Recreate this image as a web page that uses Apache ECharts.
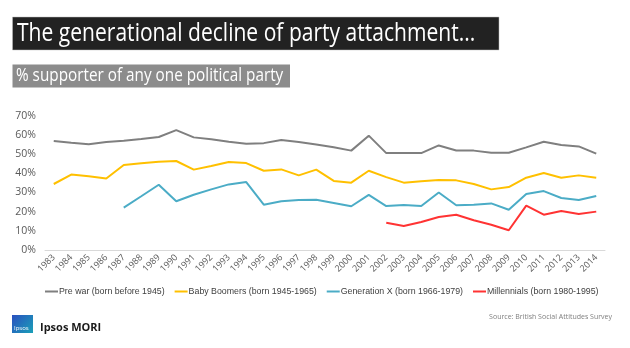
<!DOCTYPE html>
<html><head><meta charset="utf-8">
<script src="https://cdn.jsdelivr.net/npm/echarts@6/dist/echarts.min.js"></script>
<style>html,body{margin:0;padding:0;background:#fff}#c{width:630px;height:348px}</style>
</head><body><div id="c"></div>
<script>
const years = ['1983','1984','1985','1986','1987','1988','1989','1990','1991','1992','1993','1994','1995','1996','1997','1998','1999','2000','2001','2002','2003','2004','2005','2006','2007','2008','2009','2010','2011','2012','2013','2014'];
const preWar = [56.8,55.9,55.1,56.3,57.0,57.8,58.9,62.5,58.7,57.7,56.4,55.4,55.7,57.3,56.3,55.0,53.5,51.8,59.6,50.5,50.5,50.5,54.5,51.9,51.8,50.7,50.7,53.5,56.4,54.7,54.0,50.2];
const boomers = [34.4,39.3,38.4,37.3,44.3,45.2,46.0,46.4,41.9,43.8,45.9,45.3,41.3,42.0,38.9,41.9,36.0,35.1,41.3,38.0,35.1,35.8,36.5,36.3,34.4,31.6,32.8,37.7,40.1,37.7,38.9,37.7];
const genX = [null,null,null,null,22.1,28.0,34.0,25.4,28.8,31.6,34.2,35.4,23.6,25.4,26.1,26.2,24.5,22.8,28.7,22.9,23.4,22.9,30.0,23.3,23.6,24.3,21.0,29.2,30.7,27.1,26.1,28.1];
const millennials = [null,null,null,null,null,null,null,null,null,null,null,null,null,null,null,null,null,null,null,14.2,12.5,14.6,17.2,18.4,15.5,13.2,10.3,23.1,18.4,20.3,18.8,20.0];
const seriesNames = ['Pre war (born before 1945)','Baby Boomers (born 1945-1965)','Generation X (born 1966-1979)','Millennials (born 1980-1995)'];
const yTicks = {min:0, max:70, interval:10};

const colors = ['#7f7f7f','#ffc000','#4bacc6','#ff3333'];
const font = "'Open Sans', 'Noto Sans', sans-serif";
const legendFont = "'Liberation Sans', Arial, sans-serif";
const chart = echarts.init(document.getElementById('c'), null, {renderer:'canvas'});
const mk = (name, data, i) => ({name, type:'line', data, symbol:'none', smooth:false, connectNulls:false,
  lineStyle:{color:colors[i], width:2}, itemStyle:{color:colors[i]}, emphasis:{disabled:true}});
chart.setOption({
  animation:false,
  textStyle:{fontFamily:font},
  grid:{left:45, right:25, top:115.7, bottom:98, containLabel:false},
  xAxis:{type:'category', data:years, boundaryGap:true,
    axisLine:{lineStyle:{color:'#d9d9d9'}}, axisTick:{show:false},
    axisLabel:{rotate:45, fontSize:9, color:'#595959', interval:0, margin:6, fontFamily:font}},
  yAxis:{type:'value', min:yTicks.min, max:yTicks.max, interval:yTicks.interval,
    axisLine:{show:false}, axisTick:{show:false}, splitLine:{show:false},
    axisLabel:{formatter:'{value}%', fontSize:10.5, color:'#595959', margin:9, fontFamily:font}},
  legend:{data:seriesNames, left:40, top:282, width:585, icon:'rect', itemWidth:13, itemHeight:2, itemGap:10,
    textStyle:{fontSize:8.8, color:'#404040', padding:[0,0,0,-4], fontFamily:legendFont}},
  series:[mk(seriesNames[0],preWar,0), mk(seriesNames[1],boomers,1), mk(seriesNames[2],genX,2), mk(seriesNames[3],millennials,3)],
  graphic:[
    {type:'rect', shape:{x:12.5, y:17, width:486.5, height:33}, style:{fill:'#222222', stroke:'#bfbfbf', lineWidth:0.5}},
    {type:'text', x:17, y:33.5, scaleX:0.81, style:{text:'The generational decline of party attachment...', fill:'#ffffff', font:"26px 'Open Sans', sans-serif", textVerticalAlign:'middle'}},
    {type:'rect', shape:{x:12.5, y:64.5, width:277.5, height:23}, style:{fill:'#8c8c8c'}},
    {type:'text', x:16, y:76, scaleX:0.85, style:{text:'% supporter of any one political party', fill:'#ffffff', font:"18px 'Open Sans', sans-serif", textVerticalAlign:'middle'}},
    {type:'rect', shape:{x:12, y:315, width:21, height:18}, style:{fill:new echarts.graphic.LinearGradient(0,0,1,1,[{offset:0,color:'#2a4fbf'},{offset:1,color:'#1aa0b8'}])}},
    {type:'text', x:14, y:328, style:{text:'Ipsos', fill:'#ffffff', font:"6px 'Open Sans', sans-serif", textVerticalAlign:'middle'}},
    {type:'text', x:40, y:328, style:{text:'Ipsos MORI', fill:'#1a1a1a', font:"bold 11px 'Open Sans', sans-serif", textVerticalAlign:'middle'}},
    {type:'text', x:612, y:317, style:{text:'Source: British Social Attitudes Survey', fill:'#7f7f7f', font:"7px 'Open Sans', sans-serif", textAlign:'right', textVerticalAlign:'middle'}}
  ]
});
</script></body></html>
